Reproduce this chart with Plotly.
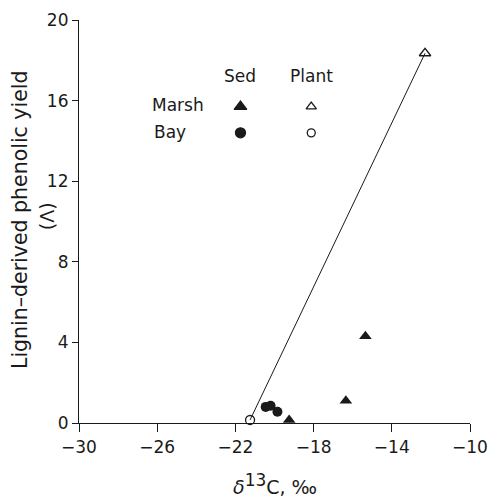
import plotly.graph_objects as go

# Data (δ13C in ‰, lignin-derived phenolic yield Λ)
marsh_sed_x = [-19.25, -16.35, -15.35]
marsh_sed_y = [0.15, 1.10, 4.30]
bay_sed_x = [-20.45, -20.2, -19.85]
bay_sed_y = [0.80, 0.86, 0.56]
marsh_plant_x = [-12.3]
marsh_plant_y = [18.35]
bay_plant_x = [-21.25]
bay_plant_y = [0.15]

x_ticks = [-30, -26, -22, -18, -14, -10]
y_ticks = [0, 4, 8, 12, 16, 20]

FONT = "DejaVu Sans"
INK = "#1a1a1a"

fig = go.Figure()

# mixing line between the two plant end-members
fig.add_trace(go.Scatter(
    x=bay_plant_x + marsh_plant_x, y=bay_plant_y + marsh_plant_y,
    mode="lines", line=dict(color=INK, width=1), showlegend=False, hoverinfo="skip",
    cliponaxis=False))

fig.add_trace(go.Scatter(x=marsh_sed_x, y=marsh_sed_y, mode="markers", name="Marsh Sed",
                         marker=dict(symbol="triangle-up", size=11, color=INK),
                         cliponaxis=False, showlegend=False))
fig.add_trace(go.Scatter(x=bay_sed_x, y=bay_sed_y, mode="markers", name="Bay Sed",
                         marker=dict(symbol="circle", size=10, color=INK),
                         cliponaxis=False, showlegend=False))
fig.add_trace(go.Scatter(x=marsh_plant_x, y=marsh_plant_y, mode="markers", name="Marsh Plant",
                         marker=dict(symbol="triangle-up-open", size=10, color=INK,
                                     line=dict(width=1.3, color=INK)),
                         cliponaxis=False, showlegend=False))
fig.add_trace(go.Scatter(x=bay_plant_x, y=bay_plant_y, mode="markers", name="Bay Plant",
                         marker=dict(symbol="circle-open", size=9, color=INK,
                                     line=dict(width=1.3, color=INK)),
                         cliponaxis=False, showlegend=False))

# legend key grid (placed on hidden 0..1 overlay axes)
key_cols = {"Sed": 0.413, "Plant": 0.594}
key_rows = {"Marsh": 0.785, "Bay": 0.720}
key_sym = {("Marsh", "Sed"): ("triangle-up", 11), ("Bay", "Sed"): ("circle", 10),
           ("Marsh", "Plant"): ("triangle-up-open", 9), ("Bay", "Plant"): ("circle-open", 8)}
for (row, col), (sym, sz) in key_sym.items():
    fig.add_trace(go.Scatter(x=[key_cols[col]], y=[key_rows[row]], mode="markers",
                             xaxis="x2", yaxis="y2", showlegend=False, hoverinfo="skip",
                             marker=dict(symbol=sym, size=sz, color=INK,
                                         line=dict(width=1.3, color=INK))))

annotations = []
for col, xv in key_cols.items():
    annotations.append(dict(text=col, x=xv, y=0.862, xref="paper", yref="paper",
                            showarrow=False, xanchor="center", yanchor="middle",
                            font=dict(family=FONT, size=17, color=INK)))
for row, yv in key_rows.items():
    annotations.append(dict(text=row, x=0.182 if row == "Marsh" else 0.187, y=yv + 0.003,
                            xref="paper", yref="paper",
                            showarrow=False, xanchor="left", yanchor="middle",
                            font=dict(family=FONT, size=17, color=INK)))
# axis titles
annotations.append(dict(text="Lignin\u2013derived phenolic yield", x=-0.151, y=0.506,
                        xref="paper", yref="paper", showarrow=False, textangle=-90,
                        xanchor="center", yanchor="middle",
                        font=dict(family=FONT, size=20.5, color=INK)))
annotations.append(dict(text="(\u039b)", x=-0.082, y=0.513,
                        xref="paper", yref="paper", showarrow=False, textangle=-90,
                        xanchor="center", yanchor="middle",
                        font=dict(family=FONT, size=19, color=INK)))
annotations.append(dict(text="<i>\u03b4</i><sup><span style='font-size:17px'>13</span></sup>C, \u2030",
                        x=0.5, y=-0.152,
                        xref="paper", yref="paper", showarrow=False,
                        xanchor="center", yanchor="middle",
                        font=dict(family=FONT, size=19, color=INK)))

axis_common = dict(showgrid=False, zeroline=False, showline=True, linecolor=INK, linewidth=1.2,
                   ticks="outside", tickcolor=INK, tickwidth=1.2, automargin=False,
                   ticklabeloverflow="allow",
                   tickfont=dict(family=FONT, size=17, color=INK))

fig.update_layout(
    width=490, height=500,
    margin=dict(l=79, r=20, t=20, b=77, autoexpand=False),
    paper_bgcolor="white", plot_bgcolor="white",
    xaxis=dict(range=[-30, -10], tickvals=x_ticks, ticktext=[f"\u2212{abs(v)}" for v in x_ticks],
               ticklen=8, **axis_common),
    yaxis=dict(range=[0, 20], tickvals=y_ticks, ticklen=6, **axis_common),
    xaxis2=dict(range=[0, 1], overlaying="x", visible=False),
    yaxis2=dict(range=[0, 1], overlaying="y", visible=False),
    annotations=annotations,
    showlegend=False,
)

fig.write_html("out.html", config={"displayModeBar": False},
               post_script="document.body.style.margin='0';document.body.style.overflow='hidden';")
